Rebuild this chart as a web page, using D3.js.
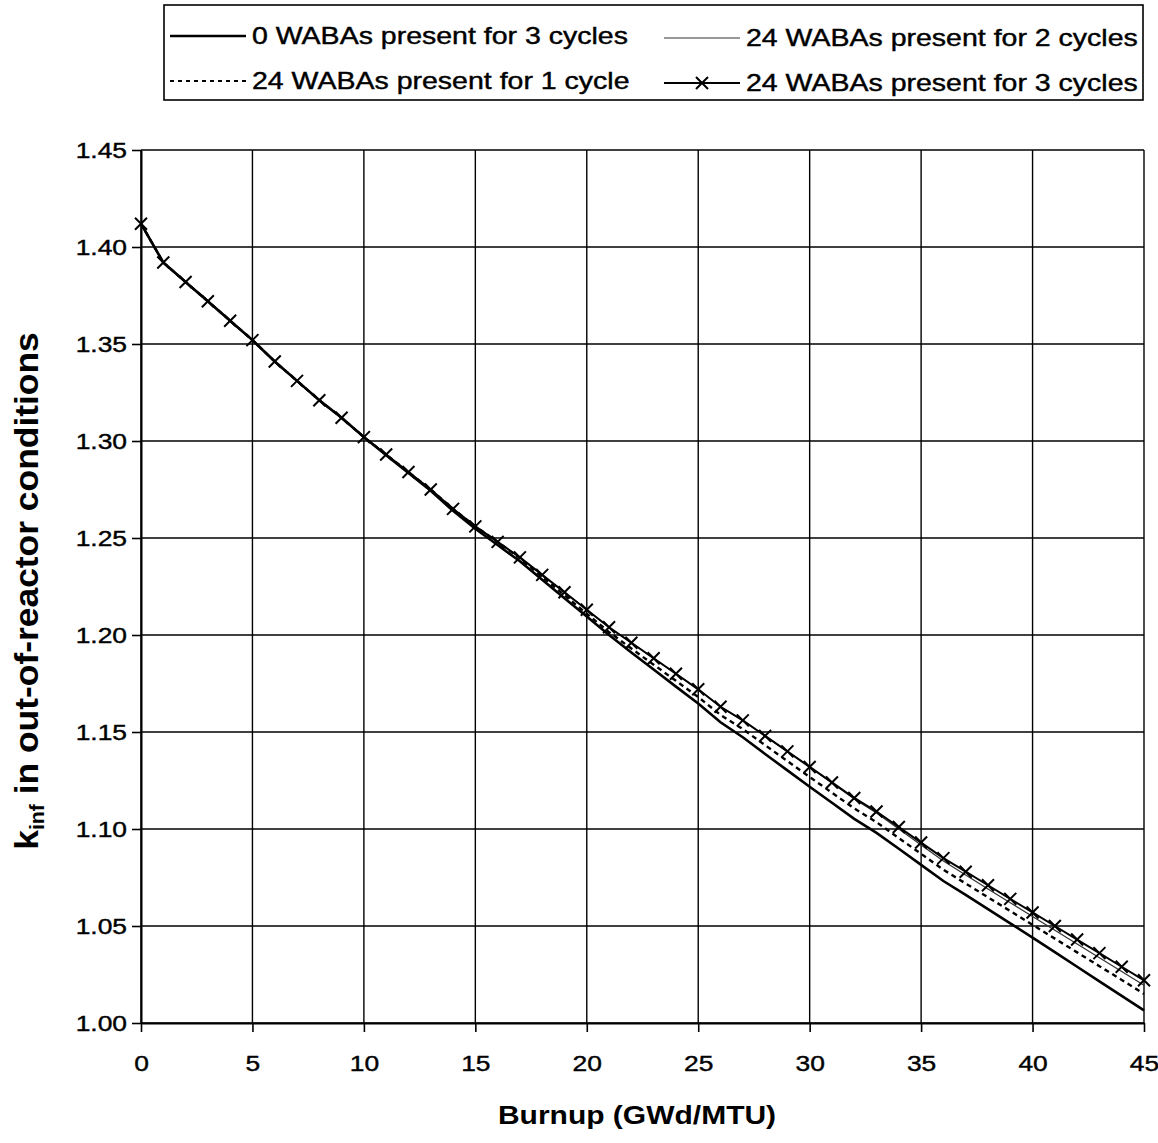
<!DOCTYPE html>
<html>
<head>
<meta charset="utf-8">
<script src="https://cdn.jsdelivr.net/npm/d3@7"></script>
<style>
  body { margin: 0; background: #fff; }
  svg { display: block; }
  text { font-family: "Liberation Sans", Arial, sans-serif; fill: #000; }
</style>
</head>
<body>
<svg id="chart"></svg>
<script>
// burnup steps (GWd/MTU)
let burnup = [0,1,2,3,4,5,6,7,8,9,10,11,12,13,14,15,16,17,18,19,20,21,22,23,24,25,26,27,28,29,30,31,32,33,34,35,36,37,38,39,40,41,42,43,44,45]

// kinf, 0 WABAs present for 3 cycles (solid)
let waba0 = [1.412,1.392,1.382,1.372,1.362,1.352,1.341,1.331,1.321,1.312,
  1.302,1.2927,1.2835,1.2743,1.264,1.2548,1.2464,1.238,1.2285,1.219,
  1.2095,1.200,1.191,1.1822,1.1734,1.1647,1.155,1.1473,1.1387,1.1302,
  1.1218,1.1135,1.1052,1.098,1.0898,1.0815,1.0732,1.066,1.0587,1.0514,
  1.044,1.0365,1.029,1.0215,1.014,1.0065]

// 24 WABAs present for 1 cycle (dotted)
let waba1 = [1.412,1.392,1.382,1.372,1.362,1.352,1.341,1.331,1.321,1.312,
  1.302,1.293,1.284,1.275,1.265,1.256,1.248,1.2395,1.230,1.2205,
  1.211,1.2015,1.193,1.1847,1.1764,1.168,1.1588,1.1515,1.1432,1.135,
  1.1268,1.1187,1.1106,1.1035,1.0953,1.0872,1.079,1.0719,1.0648,1.0577,
  1.0506,1.0435,1.0364,1.0293,1.0222,1.015]

// 24 WABAs present for 2 cycles (thin)
let waba2 = [1.412,1.392,1.382,1.372,1.362,1.352,1.341,1.331,1.321,1.312,
  1.302,1.293,1.284,1.275,1.265,1.256,1.248,1.240,1.231,1.222,
  1.213,1.204,1.196,1.188,1.180,1.172,1.163,1.156,1.148,1.140,
  1.132,1.1237,1.1155,1.1082,1.100,1.0917,1.0835,1.0763,1.0691,1.062,
  1.0549,1.0478,1.0407,1.0336,1.0265,1.0194]

// 24 WABAs present for 3 cycles (crosses)
let waba3 = [1.412,1.392,1.382,1.372,1.362,1.352,1.341,1.331,1.321,1.312,
  1.302,1.293,1.284,1.275,1.265,1.256,1.248,1.240,1.231,1.222,
  1.213,1.204,1.196,1.188,1.180,1.172,1.163,1.156,1.148,1.140,
  1.132,1.124,1.116,1.109,1.101,1.093,1.085,1.078,1.071,1.064,
  1.057,1.050,1.043,1.036,1.029,1.022]

let xTicks = [0,5,10,15,20,25,30,35,40,45]
let yTicks = [1.00,1.05,1.10,1.15,1.20,1.25,1.30,1.35,1.40,1.45]

let legendLabels = ['0 WABAs present for 3 cycles', '24 WABAs present for 2 cycles',
                    '24 WABAs present for 1 cycle', '24 WABAs present for 3 cycles']

let width = 1158
let height = 1143
let plot = {left: 141, right: 1144, top: 150, bottom: 1023}
let stretch = 'scale(1.2,1)'

let svg = d3.select('#chart').attr('width', width).attr('height', height)

let xScale = d3.scaleLinear().domain([0, 45]).range([plot.left, plot.right])
let yScale = d3.scaleLinear().domain([1.00, 1.45]).range([plot.bottom, plot.top])

// grid
let grid = svg.append('g').attr('stroke', '#000').attr('stroke-width', 1.4)
grid.selectAll('.vg').data(xTicks).enter().append('line')
    .attr('x1', d => xScale(d)).attr('x2', d => xScale(d))
    .attr('y1', plot.top).attr('y2', plot.bottom)
grid.selectAll('.hg').data(yTicks).enter().append('line')
    .attr('x1', plot.left).attr('x2', plot.right)
    .attr('y1', d => yScale(d)).attr('y2', d => yScale(d))

// axes
let xAxis = d3.axisBottom(xScale).tickValues(xTicks).tickFormat(d3.format('d'))
    .tickSize(9).tickSizeOuter(0).tickPadding(0)
let yAxis = d3.axisLeft(yScale).tickValues(yTicks).tickFormat(d3.format('.2f'))
    .tickSize(9).tickSizeOuter(0).tickPadding(0)

let gx = svg.append('g').attr('transform', 'translate(0,' + plot.bottom + ')').call(xAxis)
let gy = svg.append('g').attr('transform', 'translate(' + plot.left + ',0)').call(yAxis)

;[gx, gy].forEach(g => {
    g.select('.domain').attr('stroke', '#000').attr('stroke-width', 2)
    g.selectAll('.tick line').attr('stroke', '#000').attr('stroke-width', 1.6)
    g.selectAll('text').attr('font-size', 22).attr('fill', '#000')
        .attr('stroke', '#000').attr('stroke-width', 0.4)
        .attr('font-family', '"Liberation Sans", Arial, sans-serif')
})
gx.selectAll('text').attr('y', 0).attr('dy', 0)
    .attr('transform', 'translate(0,48) ' + stretch)
gy.selectAll('text').attr('x', 0)
    .attr('transform', 'translate(-14,0) ' + stretch)

// series
let line = d3.line()
    .x((d, i) => xScale(burnup[i]))
    .y(d => yScale(d))

svg.append('path').datum(waba0).attr('d', line)
    .attr('fill', 'none').attr('stroke', '#000').attr('stroke-width', 2.6)
svg.append('path').datum(waba1).attr('d', line)
    .attr('fill', 'none').attr('stroke', '#000').attr('stroke-width', 2.4)
    .attr('stroke-dasharray', '5,4')
svg.append('path').datum(waba2).attr('d', line)
    .attr('fill', 'none').attr('stroke', '#333').attr('stroke-width', 1.2)
svg.append('path').datum(waba3).attr('d', line)
    .attr('fill', 'none').attr('stroke', '#000').attr('stroke-width', 2)

let cross = 'M-6,-6L6,6M-6,6L6,-6'
svg.selectAll('.mark').data(waba3).enter().append('path')
    .attr('class', 'mark')
    .attr('d', cross)
    .attr('transform', (d, i) => 'translate(' + xScale(burnup[i]) + ',' + yScale(d) + ')')
    .attr('stroke', '#000').attr('stroke-width', 2).attr('fill', 'none')

// axis titles
svg.append('text')
    .attr('transform', 'translate(637,1124) ' + stretch)
    .attr('text-anchor', 'middle')
    .attr('font-size', 25).attr('font-weight', 'bold')
    .text('Burnup (GWd/MTU)')

let yTitle = svg.append('text')
    .attr('transform', 'translate(38,591) rotate(-90) scale(1.18,1.1)')
    .attr('text-anchor', 'middle')
    .attr('font-size', 30).attr('font-weight', 'bold')
yTitle.append('tspan').text('k')
yTitle.append('tspan').attr('font-size', 18).attr('dy', 5).text('inf')
yTitle.append('tspan').attr('dy', -5).text(' in out-of-reactor conditions')

// legend
let legend = svg.append('g')
legend.append('rect')
    .attr('x', 164).attr('y', 5).attr('width', 979).attr('height', 95)
    .attr('fill', '#fff').attr('stroke', '#000').attr('stroke-width', 1.6)

let legendItems = [
    {label: legendLabels[0], x: 170, y: 36, dash: null, w: 2.6, color: '#000', mark: false},
    {label: legendLabels[1], x: 664, y: 38, dash: null, w: 1.2, color: '#333', mark: false},
    {label: legendLabels[2], x: 170, y: 81, dash: '4,4', w: 2.2, color: '#000', mark: false},
    {label: legendLabels[3], x: 664, y: 83, dash: null, w: 2, color: '#000', mark: true}
]
legendItems.forEach(item => {
    let g = legend.append('g')
    g.append('line')
        .attr('x1', item.x).attr('x2', item.x + 76)
        .attr('y1', item.y).attr('y2', item.y)
        .attr('stroke', item.color).attr('stroke-width', item.w)
        .attr('stroke-dasharray', item.dash)
    if (item.mark) {
        g.append('path').attr('d', cross)
            .attr('transform', 'translate(' + (item.x + 38) + ',' + item.y + ')')
            .attr('stroke', '#000').attr('stroke-width', 2).attr('fill', 'none')
    }
    g.append('text')
        .attr('transform', 'translate(' + (item.x + 82) + ',' + item.y + ') scale(1.24,1)')
        .attr('dy', '0.35em')
        .attr('font-size', 23)
        .attr('stroke', '#000').attr('stroke-width', 0.4)
        .text(item.label)
})
</script>
</body>
</html>
